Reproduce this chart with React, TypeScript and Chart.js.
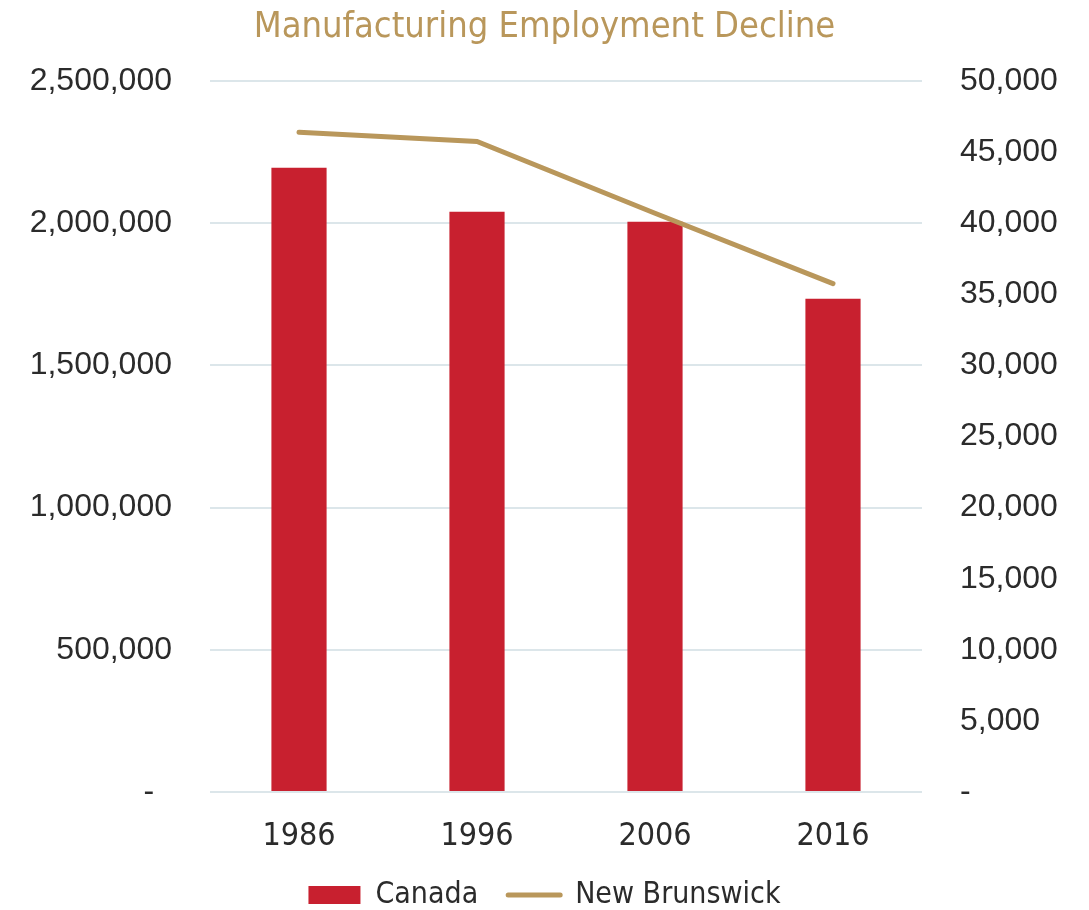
import React, { useEffect, useRef } from "react";
import { Chart, registerables } from "chart.js";

Chart.register(...registerables);

const categories = ["1986", "1996", "2006", "2016"];
const canadaValues = [2195000, 2040000, 2005000, 1734000];
const newBrunswickValues = [46400, 45750, 40700, 35750];

const RED = "#C8202F";
const GOLD = "#B9975B";
const GRID = "#DCE6EA";
const TEXT = "#2B2B2B";
const NARROW = "'Liberation Sans Narrow', 'DejaVu Sans Condensed', Roboto, sans-serif";
const SANS = "'Liberation Sans', Arial, sans-serif";

export default function App() {
  const ref = useRef<HTMLCanvasElement | null>(null);

  useEffect(() => {
    if (!ref.current) return;
    const chart = new Chart(ref.current, {
      type: "bar",
      data: {
        labels: categories,
        datasets: [
          {
            type: "line",
            label: "New Brunswick",
            data: newBrunswickValues,
            yAxisID: "y1",
            borderColor: GOLD,
            backgroundColor: GOLD,
            borderWidth: 5,
            borderCapStyle: "round",
            pointRadius: 0,
            pointStyle: "line",
            tension: 0,
            order: 0,
          } as any,
          {
            type: "bar",
            label: "Canada",
            data: canadaValues,
            yAxisID: "y",
            backgroundColor: RED,
            borderWidth: 0,
            categoryPercentage: 1,
            barPercentage: 0.31,
            pointStyle: "rect",
            order: 1,
          } as any,
        ],
      },
      options: {
        animation: false,
        responsive: true,
        maintainAspectRatio: false,
        layout: { padding: { top: 0, bottom: 0, left: 0, right: 0 } },
        plugins: {
          title: {
            display: true,
            text: "Manufacturing Employment Decline",
            color: GOLD,
            font: { family: NARROW, size: 36, weight: "normal" },
            padding: { top: 6.5, bottom: 31.3 },
          },
          legend: {
            position: "bottom",
            reverse: true,
            maxHeight: 60,
            labels: {
              usePointStyle: true,
              pointStyleWidth: 52,
              boxHeight: 18,
              color: TEXT,
              font: { family: NARROW, size: 30 },
              padding: 30,
              generateLabels: (c: any) => {
                const items = Chart.defaults.plugins.legend.labels.generateLabels(c);
                return items.map((it: any) => {
                  if (it.text === "New Brunswick") {
                    return { ...it, pointStyle: "line", lineWidth: 5, strokeStyle: GOLD, fillStyle: GOLD, lineCap: "round" };
                  }
                  return { ...it, pointStyle: "rect", lineWidth: 0, fillStyle: RED, strokeStyle: RED };
                });
              },
            },
          },
          tooltip: { enabled: false },
        },
        scales: {
          x: {
            grid: { display: false },
            border: { display: false },
            ticks: {
              color: TEXT,
              font: { family: NARROW, size: 32 },
              padding: 17,
            },
            afterFit: (s: any) => {
              s.height = 58;
            },
          },
          y: {
            position: "left",
            min: 0,
            max: 2500000,
            grid: { color: GRID, lineWidth: 2, drawTicks: false },
            border: { display: false },
            ticks: {
              stepSize: 500000,
              color: TEXT,
              font: { family: SANS, size: 32 },
              padding: 38,
              callback: (v: any) => (Number(v) === 0 ? "-  " : Number(v).toLocaleString("en-US")),
            },
            afterFit: (s: any) => {
              s.width = 210;
            },
          },
          y1: {
            position: "right",
            min: 0,
            max: 50000,
            grid: { display: false, drawTicks: false },
            border: { display: false },
            ticks: {
              stepSize: 5000,
              color: TEXT,
              font: { family: SANS, size: 32 },
              padding: 38,
              callback: (v: any) => (Number(v) === 0 ? "-" : Number(v).toLocaleString("en-US")),
            },
            afterFit: (s: any) => {
              s.width = 167;
            },
          },
        },
      },
    });
    return () => chart.destroy();
  }, []);

  return (
    <div style={{ position: "fixed", left: 0, top: 0, width: 1089, height: 910, background: "#fff" }}>
      <canvas ref={ref} />
    </div>
  );
}
